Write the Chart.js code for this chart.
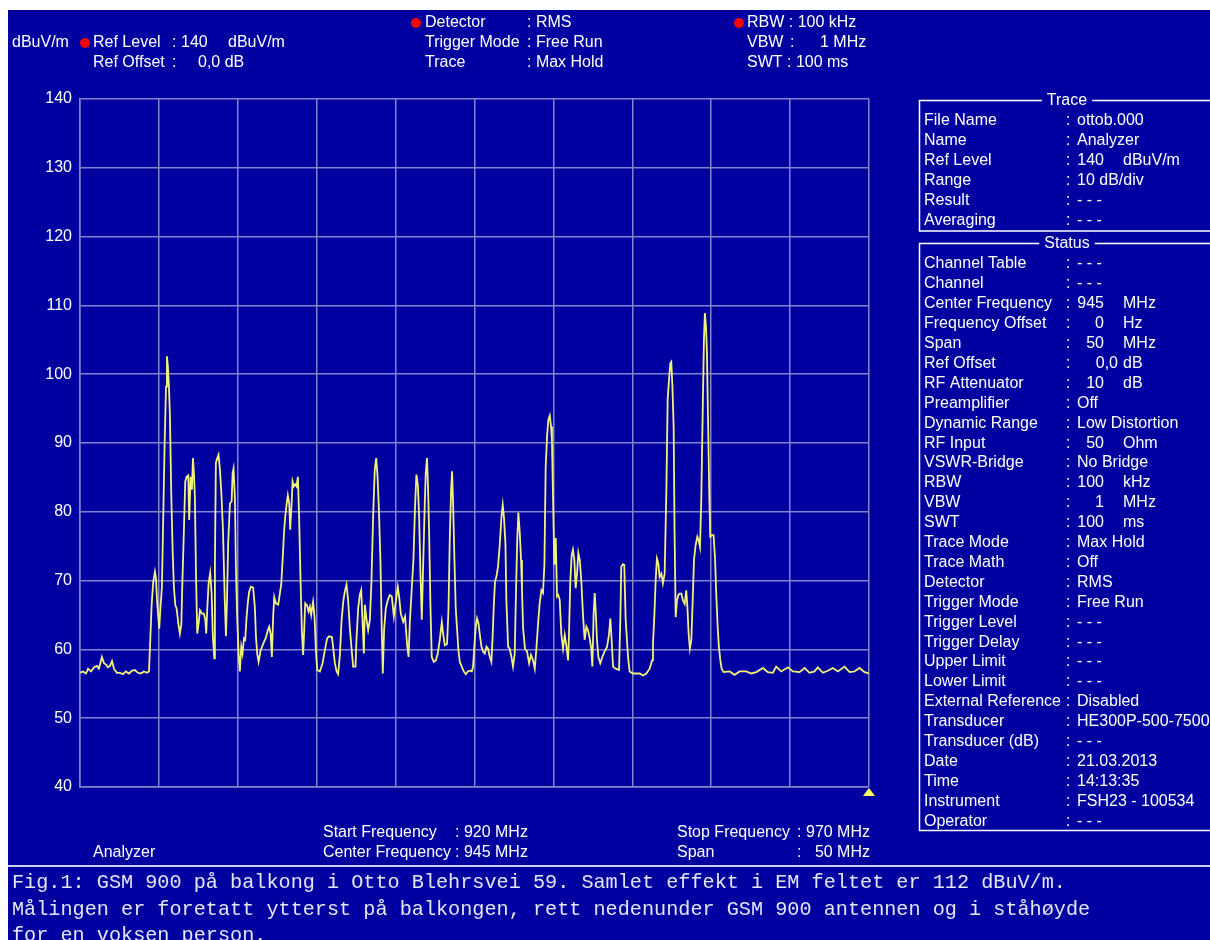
<!DOCTYPE html>
<html>
<head>
<meta charset="utf-8">
<title>GSM 900 spektrum</title>
<script src="https://cdn.jsdelivr.net/npm/chart.js@4/dist/chart.umd.min.js"></script>
<style>
  html, body { margin: 0; padding: 0; background: #ffffff; }
  #wrap { position: relative; width: 1210px; height: 940px; }
  canvas { display: block; }
</style>
</head>
<body>
<div id="wrap"><canvas id="spec" width="1210" height="940"></canvas></div>
<script>
// Max-hold trace, 920-970 MHz, level in dBuV/m
const freqMHz = [
  920.00, 920.19, 920.38, 920.51, 920.70, 920.89, 921.08, 921.20, 921.39, 921.52,
  921.65, 921.77, 921.90, 922.03, 922.15, 922.34, 922.53, 922.72, 922.91, 923.10,
  923.29, 923.48, 923.67, 923.86, 924.05, 924.24, 924.37, 924.43, 924.54, 924.64,
  924.75, 924.81, 924.90, 925.02, 925.11, 925.19, 925.28, 925.36, 925.45, 925.51,
  925.57, 925.64, 925.70, 925.78, 925.87, 925.95, 926.04, 926.12, 926.23, 926.33,
  926.42, 926.48, 926.59, 926.67, 926.76, 926.86, 926.92, 927.01, 927.09, 927.16,
  927.22, 927.28, 927.35, 927.43, 927.52, 927.60, 927.73, 927.85, 927.94, 928.00,
  928.06, 928.15, 928.25, 928.34, 928.42, 928.51, 928.55, 928.61, 928.70, 928.78,
  928.87, 928.97, 929.06, 929.12, 929.18, 929.25, 929.31, 929.39, 929.50, 929.61,
  929.67, 929.73, 929.82, 929.88, 929.96, 930.05, 930.13, 930.22, 930.30, 930.39,
  930.47, 930.56, 930.64, 930.72, 930.83, 930.97, 931.08, 931.15, 931.23, 931.32,
  931.44, 931.61, 931.78, 931.91, 931.99, 932.08, 932.16, 932.24, 932.31, 932.41,
  932.56, 932.75, 932.84, 932.92, 933.00, 933.09, 933.17, 933.26, 933.32, 933.41,
  933.47, 933.55, 933.64, 933.72, 933.81, 933.89, 933.98, 934.06, 934.14, 934.20,
  934.27, 934.39, 934.48, 934.57, 934.65, 934.77, 934.86, 934.95, 935.03, 935.20,
  935.37, 935.52, 935.66, 935.79, 935.96, 936.04, 936.15, 936.26, 936.36, 936.47,
  936.57, 936.68, 936.78, 936.89, 936.99, 937.10, 937.21, 937.31, 937.46, 937.52,
  937.63, 937.73, 937.82, 937.90, 937.99, 938.05, 938.16, 938.26, 938.37, 938.47,
  938.58, 938.68, 938.77, 938.85, 938.94, 939.04, 939.13, 939.19, 939.27, 939.38,
  939.51, 939.63, 939.76, 939.89, 940.01, 940.14, 940.22, 940.33, 940.48, 940.60,
  940.73, 940.82, 940.90, 941.03, 941.13, 941.24, 941.32, 941.41, 941.49, 941.58,
  941.66, 941.74, 941.85, 941.91, 941.99, 942.06, 942.12, 942.21, 942.29, 942.42,
  942.55, 942.67, 942.80, 942.93, 943.01, 943.12, 943.26, 943.35, 943.43, 943.52,
  943.58, 943.64, 943.73, 943.81, 943.90, 943.98, 944.07, 944.19, 944.32, 944.45,
  944.57, 944.70, 944.83, 944.91, 944.99, 945.08, 945.16, 945.25, 945.33, 945.44,
  945.54, 945.65, 945.76, 945.86, 945.97, 946.07, 946.14, 946.22, 946.30, 946.39,
  946.49, 946.60, 946.71, 946.79, 946.87, 946.96, 947.02, 947.13, 947.23, 947.34,
  947.44, 947.55, 947.61, 947.70, 947.78, 947.87, 947.95, 948.01, 948.08, 948.20,
  948.33, 948.46, 948.58, 948.71, 948.82, 948.92, 949.03, 949.13, 949.24, 949.34,
  949.43, 949.51, 949.60, 949.68, 949.77, 949.85, 949.91, 949.98, 950.06, 950.15,
  950.23, 950.31, 950.40, 950.50, 950.61, 950.72, 950.82, 950.93, 950.99, 951.07,
  951.16, 951.24, 951.33, 951.41, 951.50, 951.58, 951.67, 951.77, 951.88, 951.98,
  952.09, 952.19, 952.30, 952.40, 952.47, 952.55, 952.62, 952.68, 952.76, 952.85,
  952.97, 953.10, 953.25, 953.40, 953.52, 953.61, 953.69, 953.78, 953.95, 954.16,
  954.24, 954.30, 954.41, 954.49, 954.58, 954.73, 954.83, 955.04, 955.47, 955.68,
  955.89, 956.10, 956.25, 956.31, 956.40, 956.48, 956.56, 956.65, 956.73, 956.84,
  956.94, 957.05, 957.16, 957.24, 957.35, 957.41, 957.47, 957.54, 957.62, 957.68,
  957.75, 957.83, 957.92, 958.00, 958.11, 958.21, 958.32, 958.42, 958.49, 958.57,
  958.65, 958.74, 958.82, 958.91, 959.01, 959.12, 959.20, 959.29, 959.37, 959.46,
  959.54, 959.60, 959.67, 959.73, 959.79, 959.88, 959.94, 960.05, 960.15, 960.24,
  960.32, 960.41, 960.49, 960.58, 960.66, 960.79, 961.17, 961.48, 961.80, 962.22,
  962.54, 962.86, 963.28, 963.59, 963.91, 964.12, 964.44, 964.86, 965.18, 965.60,
  965.92, 966.23, 966.55, 966.76, 967.08, 967.39, 967.71, 968.03, 968.45, 968.77,
  969.08, 969.40, 969.72, 970.00
];

const levelDb = [
  56.6, 56.8, 56.5, 57.2, 56.8, 57.4, 57.6, 57.2, 58.9, 58.0,
  57.8, 57.4, 57.6, 58.3, 57.2, 56.6, 56.6, 56.4, 56.8, 56.5,
  56.9, 57.0, 56.6, 56.5, 56.8, 56.6, 56.8, 60.0, 66.5, 69.8,
  71.3, 70.4, 66.5, 63.0, 66.5, 69.0, 79.8, 89.5, 98.2, 102.6,
  101.1, 98.0, 93.8, 82.9, 74.4, 69.1, 66.4, 66.0, 63.8, 62.3,
  63.6, 69.1, 77.8, 84.4, 85.1, 85.3, 78.8, 85.1, 83.2, 87.8,
  85.6, 82.2, 71.1, 62.3, 63.8, 65.7, 65.2, 65.2, 64.3, 62.3,
  65.7, 69.6, 71.1, 68.2, 61.9, 58.7, 72.5, 87.1, 87.8, 88.3,
  86.1, 82.2, 77.4, 72.0, 66.7, 61.9, 66.7, 75.4, 81.2, 81.5,
  85.6, 86.3, 81.7, 72.0, 64.8, 59.4, 56.8, 60.4, 59.4, 61.6,
  61.4, 64.8, 66.9, 68.4, 69.1, 69.0, 66.2, 61.9, 59.4, 58.2,
  59.8, 60.8, 61.7, 62.8, 63.3, 62.3, 58.9, 64.8, 67.6, 66.7,
  66.5, 69.4, 73.0, 76.6, 79.2, 81.0, 82.4, 81.2, 77.4, 81.2,
  84.4, 83.7, 84.0, 83.7, 85.1, 78.8, 69.6, 62.8, 59.2, 62.3,
  66.7, 66.4, 65.5, 66.2, 65.0, 66.9, 64.8, 59.9, 57.0, 56.8,
  58.0, 59.9, 61.6, 61.9, 61.8, 60.4, 58.0, 56.8, 56.4, 59.2,
  64.0, 66.9, 68.4, 69.4, 67.2, 63.1, 60.1, 57.5, 57.5, 61.4,
  66.0, 67.9, 68.6, 64.3, 59.4, 66.5, 64.3, 62.8, 64.3, 69.9,
  79.6, 86.1, 87.8, 85.4, 80.5, 72.8, 62.1, 56.5, 62.8, 66.0,
  67.2, 67.9, 67.7, 64.8, 66.9, 69.1, 67.7, 65.2, 64.0, 64.8,
  60.6, 58.9, 63.8, 69.1, 73.0, 81.3, 85.4, 83.9, 79.3, 70.6,
  64.3, 71.6, 81.3, 85.6, 87.8, 83.2, 77.4, 66.2, 58.9, 58.2,
  58.4, 59.4, 61.4, 64.0, 62.3, 60.6, 60.8, 65.7, 75.7, 83.4,
  85.9, 81.5, 73.0, 66.0, 62.8, 59.9, 58.2, 57.5, 56.8, 56.4,
  56.8, 56.9, 56.8, 57.5, 60.4, 63.3, 64.5, 63.8, 62.3, 60.4,
  59.7, 59.4, 60.4, 60.1, 58.9, 58.2, 61.4, 66.2, 69.9, 70.6,
  72.0, 75.2, 79.3, 81.0, 79.1, 75.4, 67.2, 60.4, 60.1, 58.9,
  57.5, 59.4, 66.2, 75.4, 79.9, 76.9, 73.0, 68.6, 63.1, 60.1,
  59.7, 58.0, 59.2, 58.4, 57.2, 60.1, 63.8, 66.7, 68.6, 68.2,
  72.3, 86.4, 91.0, 93.4, 94.0, 92.4, 90.2, 81.7, 72.3, 76.2,
  67.7, 67.9, 67.2, 62.3, 60.1, 62.1, 60.6, 58.4, 62.3, 69.9,
  73.7, 74.5, 73.0, 68.9, 71.1, 74.0, 73.0, 69.9, 64.8, 61.4,
  63.3, 62.8, 61.6, 60.1, 57.5, 65.2, 68.2, 65.7, 61.4, 58.9,
  58.0, 58.9, 59.7, 60.4, 62.1, 64.5, 61.4, 57.5, 57.2, 57.0,
  64.3, 72.0, 72.4, 72.3, 64.3, 58.9, 56.8, 56.5, 56.5, 56.2,
  56.5, 57.2, 58.4, 60.8, 65.0, 70.0, 73.2, 72.5, 70.5, 71.0,
  69.6, 71.0, 83.2, 96.3, 99.9, 101.6, 101.8, 98.4, 92.4, 76.8,
  64.7, 67.1, 67.9, 68.1, 68.1, 67.1, 66.6, 68.6, 66.2, 62.3,
  60.1, 61.3, 66.6, 73.0, 75.1, 76.4, 75.9, 74.9, 81.7, 94.3,
  105.0, 108.9, 106.9, 103.1, 94.8, 82.2, 76.4, 76.6, 76.6, 73.4,
  68.1, 63.3, 60.3, 58.4, 57.2, 56.7, 56.8, 56.3, 56.8, 56.8,
  56.5, 56.7, 57.3, 56.7, 56.6, 57.5, 56.8, 57.4, 56.8, 56.7,
  57.3, 56.6, 56.8, 57.4, 56.6, 56.9, 57.3, 56.8, 57.5, 56.7,
  56.8, 57.3, 56.7, 56.5
];

// Axis ranges and tick step
const freqStart = 920, freqStop = 970, freqStep = 5;
const levelMin = 40, levelMax = 140, levelStep = 10;

// Instrument header / footer text
const headerItems = [
  ['dBuV/m', 12, 43], ['Ref Level', 93, 43], [':', 172, 43], ['140', 181, 43], ['dBuV/m', 228, 43],
  ['Ref Offset', 93, 63], [':', 172, 63], ['0,0 dB', 198, 63],
  ['Detector', 425, 23], [': RMS', 527, 23],
  ['Trigger Mode', 425, 43], [': Free Run', 527, 43],
  ['Trace', 425, 63], [': Max Hold', 527, 63],
  ['RBW : 100 kHz', 747, 23],
  ['VBW', 747, 43], [':', 790, 43], ['1 MHz', 820, 43],
  ['SWT : 100 ms', 747, 63]
];
const headerDots = [[85, 43], [416, 23], [739, 23]];
const footerItems = [
  ['Analyzer', 93, 853, 'left'],
  ['Start Frequency', 323, 833, 'left'], [': 920 MHz', 455, 833, 'left'],
  ['Center Frequency', 323, 853, 'left'], [': 945 MHz', 455, 853, 'left'],
  ['Stop Frequency', 677, 833, 'left'], [': 970 MHz', 870, 833, 'right'],
  ['Span', 677, 853, 'left'], [':', 797, 853, 'left'], ['50 MHz', 870, 853, 'right']
];

// Side panel rows: label, value, unit
const traceRows = [
  ['File Name', 'ottob.000'], ['Name', 'Analyzer'], ['Ref Level', '140', 'dBuV/m'],
  ['Range', '10 dB/div'], ['Result', '- - -'], ['Averaging', '- - -']
];
const statusRows = [
  ['Channel Table', '- - -'], ['Channel', '- - -'],
  ['Center Frequency', '945', 'MHz'], ['Frequency Offset', '0', 'Hz'],
  ['Span', '50', 'MHz'], ['Ref Offset', '0,0', 'dB'], ['RF Attenuator', '10', 'dB'],
  ['Preamplifier', 'Off'], ['Dynamic Range', 'Low Distortion'], ['RF Input', '50', 'Ohm'],
  ['VSWR-Bridge', 'No Bridge'], ['RBW', '100', 'kHz'], ['VBW', '1', 'MHz'],
  ['SWT', '100', 'ms'], ['Trace Mode', 'Max Hold'], ['Trace Math', 'Off'],
  ['Detector', 'RMS'], ['Trigger Mode', 'Free Run'], ['Trigger Level', '- - -'],
  ['Trigger Delay', '- - -'], ['Upper Limit', '- - -'], ['Lower Limit', '- - -'],
  ['External Reference', 'Disabled'], ['Transducer', 'HE300P-500-7500'],
  ['Transducer (dB)', '- - -'], ['Date', '21.03.2013'], ['Time', '14:13:35'],
  ['Instrument', 'FSH23 - 100534'], ['Operator', '- - -']
];

const captionLines = [
  'Fig.1: GSM 900 på balkong i Otto Blehrsvei 59. Samlet effekt i EM feltet er 112 dBuV/m.',
  'Målingen er foretatt ytterst på balkongen, rett nedenunder GSM 900 antennen og i ståhøyde',
  'for en voksen person.'
];

const BG = '#0000a0';
const GRID = '#8484cc';
const TEXT = '#ffffff';
const TRACE = '#f2f27a';
const SANS = '"Liberation Sans", Arial, sans-serif';

const screenPlugin = {
  id: 'screen',
  beforeDraw(chart) {
    const c = chart.ctx;
    c.save();
    c.fillStyle = '#ffffff';
    c.fillRect(0, 0, chart.width, chart.height);
    c.fillStyle = BG;
    c.fillRect(8, 10, chart.width - 8, chart.height - 10);
    c.restore();
  },
  afterDraw(chart) {
    const c = chart.ctx;
    c.save();
    c.fillStyle = TEXT;
    c.textBaseline = 'middle';

    // header
    c.font = '16px ' + SANS;
    c.textAlign = 'left';
    headerItems.forEach(([t, x, y]) => c.fillText(t, x, y));
    c.fillStyle = '#ff0000';
    headerDots.forEach(([x, y]) => { c.beginPath(); c.arc(x, y, 5, 0, Math.PI * 2); c.fill(); });

    // footer
    c.fillStyle = TEXT;
    footerItems.forEach(([t, x, y, a]) => { c.textAlign = a; c.fillText(t, x, y); });

    // marker triangle at stop frequency
    const xs = chart.scales.x, ys = chart.scales.y;
    const mx = xs.getPixelForValue(freqStop), my = ys.getPixelForValue(levelMin);
    c.fillStyle = '#ffff60';
    c.beginPath();
    c.moveTo(mx, my + 1); c.lineTo(mx - 6, my + 9); c.lineTo(mx + 6, my + 9); c.closePath();
    c.fill();

    // side panels
    const drawBox = (title, top, bottom, rows) => {
      c.strokeStyle = '#ffffff';
      c.lineWidth = 1.5;
      c.font = '16px ' + SANS;
      const tw = c.measureText(title).width;
      const cx = 1067;
      c.beginPath();
      c.moveTo(cx - tw / 2 - 5, top); c.lineTo(919.5, top); c.lineTo(919.5, bottom); c.lineTo(1212, bottom);
      c.moveTo(cx + tw / 2 + 5, top); c.lineTo(1212, top);
      c.stroke();
      c.fillStyle = TEXT;
      c.textAlign = 'center';
      c.fillText(title, cx, top);
      rows.forEach((r, i) => {
        const y = top + 20.5 + i * 19.9;
        c.textAlign = 'left';
        c.fillText(r[0], 924, y);
        c.fillText(':', 1066, y);
        if (r[2]) {
          c.textAlign = 'right';
          c.fillText(r[1], r[1] === '0,0' ? 1118 : 1104, y);
          c.textAlign = 'left';
          c.fillText(r[2], 1123, y);
        } else {
          c.fillText(r[1], 1077, y);
        }
      });
    };
    drawBox('Trace', 100.5, 231, traceRows);
    drawBox('Status', 243.5, 830.5, statusRows);

    // separator and caption
    c.strokeStyle = '#d0d0f0';
    c.lineWidth = 2;
    c.beginPath(); c.moveTo(8, 866); c.lineTo(chart.width, 866); c.stroke();
    c.fillStyle = '#e4e4f8';
    c.textAlign = 'left';
    c.textBaseline = 'alphabetic';
    c.font = '20.2px "Liberation Mono", "DejaVu Sans Mono", monospace';
    captionLines.forEach((t, i) => c.fillText(t, 12, 888 + i * 26.5));
    c.restore();
  }
};

new Chart(document.getElementById('spec'), {
  type: 'line',
  data: {
    datasets: [{
      data: freqMHz.map((f, i) => ({ x: f, y: levelDb[i] })),
      borderColor: TRACE,
      borderWidth: 1.8,
      pointRadius: 0,
      tension: 0,
      fill: false
    }]
  },
  options: {
    responsive: false,
    animation: false,
    events: [],
    layout: { padding: { left: 0, top: 99, right: 341, bottom: 153 } },
    plugins: { legend: { display: false }, tooltip: { enabled: false } },
    scales: {
      x: {
        type: 'linear',
        min: freqStart, max: freqStop,
        ticks: { stepSize: freqStep, display: false },
        grid: { color: GRID, lineWidth: 1.5, drawTicks: false },
        border: { color: GRID, width: 1.5 },
        afterFit(s) { s.height = 0; }
      },
      y: {
        min: levelMin, max: levelMax,
        ticks: { stepSize: levelStep, color: TEXT, padding: 8, font: { family: SANS, size: 16 } },
        grid: { color: GRID, lineWidth: 1.5, drawTicks: false },
        border: { color: GRID, width: 1.5 },
        afterFit(s) { s.width = 80; }
      }
    }
  },
  plugins: [screenPlugin]
});
</script>
</body>
</html>
